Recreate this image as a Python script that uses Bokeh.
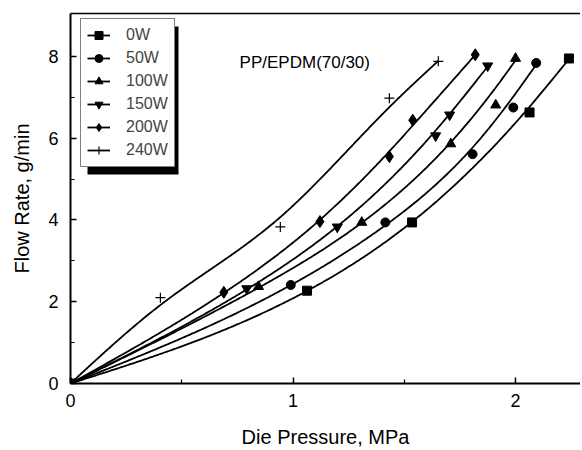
import numpy as np
from bokeh.plotting import figure
from bokeh.models import Range1d, LinearAxis, Legend, LegendItem, Label, BoxAnnotation, FixedTicker
from bokeh.embed import file_html
from bokeh.resources import INLINE

# ---- data ----
series_labels = ["0W", "50W", "100W", "150W", "200W", "240W"]
x_0w = [0, 1.063, 1.535, 2.063, 2.240]
y_0w = [0, 2.27, 3.94, 6.63, 7.95]
x_50w = [0, 0.990, 1.415, 1.807, 1.990, 2.093]
y_50w = [0, 2.41, 3.94, 5.61, 6.75, 7.84]
x_100w = [0, 0.845, 1.309, 1.709, 1.911, 2.000]
y_100w = [0, 2.37, 3.94, 5.86, 6.81, 7.95]
x_150w = [0, 0.792, 1.199, 1.641, 1.704, 1.875]
y_150w = [0, 2.32, 3.83, 6.06, 6.57, 7.77]
x_200w = [0, 0.689, 1.121, 1.433, 1.538, 1.819]
y_200w = [0, 2.23, 3.96, 5.55, 6.44, 8.04]
x_240w = [0, 0.404, 0.943, 1.433, 1.653]
y_240w = [0, 2.10, 3.83, 6.98, 7.88]
x_ticks = [0, 1, 2]
x_minor = [0.5, 1.5]
y_ticks = [0, 2, 4, 6, 8]
y_minor = [1, 3, 5, 7]
annotation_text = "PP/EPDM(70/30)"

xs = [x_0w, x_50w, x_100w, x_150w, x_200w, x_240w]
ys = [y_0w, y_50w, y_100w, y_150w, y_200w, y_240w]
markers = ["square", "circle", "triangle", "inverted_triangle", "diamond", "cross"]
msizes = [9, 9, 10, 10, 12, 10]


def smooth_curve(x, y, s=0.006, n=300):
    """Penalised least-squares smoothing spline on a fine grid (origin pinned)."""
    x = np.asarray(x, float)
    y = np.asarray(y, float)
    g = np.linspace(0, x.max(), n)
    h = g[1] - g[0]
    W = np.zeros((len(x), n))
    w = np.ones(len(x))
    w[x == 0] = 20.0
    w[-1] = 3.0
    for i, xi in enumerate(x):
        j = min(int(xi / h), n - 2)
        f = (xi - g[j]) / h
        W[i, j] = (1 - f) * w[i]
        W[i, j + 1] = f * w[i]
    D = np.zeros((n - 2, n))
    for i in range(n - 2):
        D[i, i:i + 3] = [1, -2, 1]
    A = W.T @ W + (s / h ** 3) * (D.T @ D)
    b = W.T @ (y * w)
    return g, np.linalg.solve(A, b)


FONT = "Liberation Sans"
X_END = 2.292
Y_END = 9.05
FW, FH = 510, 370

p = figure(frame_width=FW, frame_height=FH,
           x_range=Range1d(0, X_END), y_range=Range1d(0, Y_END),
           output_backend="svg", toolbar_location=None,
           min_border_left=70, min_border_top=13, min_border_right=0, min_border_bottom=65,
           background_fill_color="white", border_fill_color="white")
p.outline_line_color = None
p.xgrid.visible = False
p.ygrid.visible = False

items = []
for lab, x, y, m, s in zip(series_labels, xs, ys, markers, msizes):
    cx, cy = smooth_curve(x, y)
    lr = p.line(cx, cy, line_color="black", line_width=1.8)
    if m == "cross":
        sr = p.scatter(x, y, marker=m, size=s, line_color="black", line_width=1.2)
    else:
        sr = p.scatter(x, y, marker=m, size=s, fill_color="black", line_color="black")
    items.append(LegendItem(label=lab, renderers=[lr, sr]))

for ax in (p.xaxis[0], p.yaxis[0]):
    ax.axis_line_width = 2
    ax.major_tick_in = 6
    ax.major_tick_out = 0
    ax.minor_tick_in = 4
    ax.minor_tick_out = 0
    ax.major_tick_line_width = 1.5
    ax.minor_tick_line_width = 1.2
    ax.major_label_text_font = FONT
    ax.major_label_text_font_size = "18px"
    ax.major_label_text_color = "black"
    ax.axis_label_text_font = FONT
    ax.axis_label_text_font_size = "20px"
    ax.axis_label_text_font_style = "normal"
    ax.axis_label_text_color = "black"

p.xaxis.ticker = FixedTicker(ticks=x_ticks, minor_ticks=x_minor)
p.yaxis.ticker = FixedTicker(ticks=y_ticks, minor_ticks=y_minor)
p.xaxis.axis_label = "Die Pressure, MPa"
p.yaxis.axis_label = "Flow Rate, g/min"
p.xaxis.major_label_standoff = 10
p.yaxis.major_label_standoff = 12
p.xaxis.axis_label_standoff = 16
p.yaxis.axis_label_standoff = 12

top = LinearAxis(ticker=FixedTicker(ticks=[], minor_ticks=[]),
                 axis_line_width=1.5, major_tick_in=0, major_tick_out=0,
                 minor_tick_in=0, minor_tick_out=0, major_label_standoff=0)
p.add_layout(top, "above")

# legend shadow (pixel offsets from the frame's top-left, converted to data units)
sx = X_END / FW
sy = Y_END / FH
shadow = BoxAnnotation(left=17 * sx, right=108 * sx, top=Y_END - 13 * sy, bottom=Y_END - 161 * sy,
                       fill_color="black", fill_alpha=1, line_color=None)
p.add_layout(shadow)

LEG_H = 147
legend = Legend(items=items, location=(10, FH - 7 - LEG_H), margin=0, padding=6, spacing=3,
                glyph_width=23, glyph_height=20, label_height=20, label_standoff=16,
                label_text_font=FONT, label_text_font_size="16px",
                border_line_color="black", border_line_width=1.2,
                background_fill_color="white", background_fill_alpha=1)
p.add_layout(legend)

p.add_layout(Label(x=0.76, y=7.85, text=annotation_text, text_font=FONT,
                   text_font_size="17px", text_baseline="middle", text_color="black"))

open("out.html", "w").write(file_html(p, INLINE))
